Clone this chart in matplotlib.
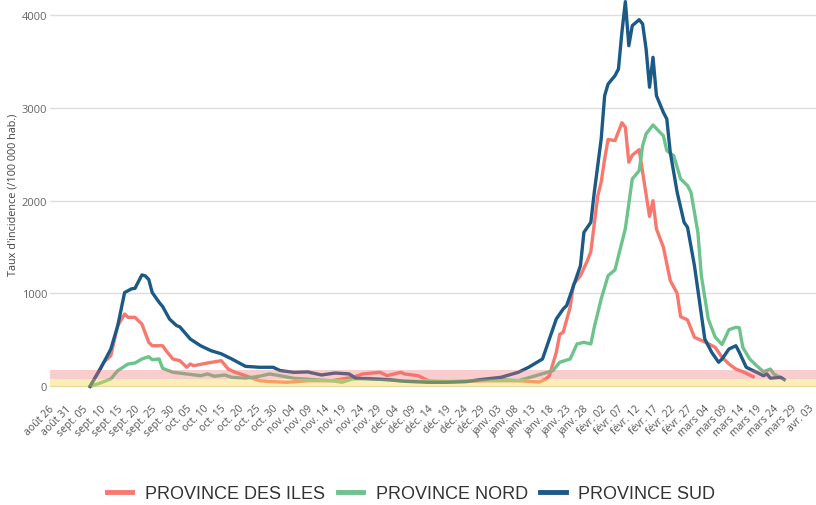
import numpy as np
import pandas as pd
import matplotlib
matplotlib.use("Agg")
import matplotlib.pyplot as plt
import matplotlib.dates as mdates
from matplotlib.ticker import FuncFormatter

# taux d'incidence (/100 000 hab.)
iles_dates = ["2021-09-06", "2021-09-10", "2021-09-12", "2021-09-14", "2021-09-16", "2021-09-17",
              "2021-09-19", "2021-09-21", "2021-09-23", "2021-09-24", "2021-09-27", "2021-09-28",
              "2021-09-30", "2021-10-02", "2021-10-04", "2021-10-05", "2021-10-06", "2021-10-10",
              "2021-10-14", "2021-10-16", "2021-10-18", "2021-10-21", "2021-10-25", "2021-10-29",
              "2021-11-02", "2021-11-08", "2021-11-15", "2021-11-21", "2021-11-24", "2021-11-29",
              "2021-12-01", "2021-12-05", "2021-12-06", "2021-12-10", "2021-12-13", "2021-12-20",
              "2021-12-30", "2022-01-08", "2022-01-14", "2022-01-16", "2022-01-17", "2022-01-19",
              "2022-01-20", "2022-01-21", "2022-01-23", "2022-01-24", "2022-01-26", "2022-01-28",
              "2022-01-29", "2022-01-30", "2022-01-31", "2022-02-01", "2022-02-02", "2022-02-03",
              "2022-02-05", "2022-02-07", "2022-02-08", "2022-02-09", "2022-02-10", "2022-02-12",
              "2022-02-13", "2022-02-15", "2022-02-16", "2022-02-17", "2022-02-19", "2022-02-21",
              "2022-02-23", "2022-02-24", "2022-02-26", "2022-02-28", "2022-03-03", "2022-03-06",
              "2022-03-08", "2022-03-10", "2022-03-12", "2022-03-14", "2022-03-17"]
iles_vals = [0, 259, 330, 653, 779, 743,
             743, 671, 474, 437, 437, 384,
             294, 276, 205, 240, 222, 251,
             276, 186, 151, 114, 60, 50,
             43, 60, 60, 97, 133, 151,
             114, 151, 133, 114, 60, 50,
             60, 60, 46, 79, 114, 366,
             560, 582, 850, 1100, 1192, 1353,
             1450, 1750, 2050, 2200, 2449, 2660,
             2647, 2840, 2791, 2414, 2490, 2550,
             2306, 1830, 2000, 1695, 1500, 1140,
             1000, 750, 715, 528, 478, 420,
             312, 240, 186, 157, 103]

nord_dates = ["2021-09-06", "2021-09-09", "2021-09-12", "2021-09-14", "2021-09-17", "2021-09-19",
              "2021-09-21", "2021-09-23", "2021-09-24", "2021-09-26", "2021-09-27", "2021-09-30",
              "2021-10-04", "2021-10-08", "2021-10-10", "2021-10-12", "2021-10-15", "2021-10-17",
              "2021-10-21", "2021-10-25", "2021-10-28", "2021-10-31", "2021-11-04", "2021-11-10",
              "2021-11-15", "2021-11-18", "2021-11-21", "2021-11-25", "2021-12-05", "2021-12-15",
              "2021-12-25", "2022-01-03", "2022-01-08", "2022-01-13", "2022-01-17", "2022-01-18",
              "2022-01-20", "2022-01-23", "2022-01-25", "2022-01-27", "2022-01-29", "2022-01-30",
              "2022-02-01", "2022-02-03", "2022-02-05", "2022-02-08", "2022-02-10", "2022-02-12",
              "2022-02-13", "2022-02-14", "2022-02-16", "2022-02-18", "2022-02-19", "2022-02-20",
              "2022-02-22", "2022-02-24", "2022-02-26", "2022-02-27", "2022-03-01", "2022-03-02",
              "2022-03-04", "2022-03-06", "2022-03-08", "2022-03-10", "2022-03-12", "2022-03-13",
              "2022-03-14", "2022-03-16", "2022-03-18", "2022-03-20", "2022-03-22", "2022-03-23",
              "2022-03-25"]
nord_vals = [0, 36, 79, 168, 240, 251,
             294, 319, 287, 294, 194, 151,
             133, 114, 133, 108, 122, 97,
             86, 108, 133, 114, 86, 71,
             60, 43, 79, 86, 60, 50,
             60, 72, 60, 114, 157, 168,
             259, 294, 456, 474, 456, 636,
             941, 1192, 1255, 1700, 2234, 2323,
             2593, 2719, 2816, 2737, 2700, 2539,
             2485, 2234, 2162, 2090, 1659, 1192,
             725, 530, 450, 610, 636, 630,
             420, 294, 222, 157, 186, 133,
             90]

sud_dates = ["2021-09-06", "2021-09-09", "2021-09-12", "2021-09-14", "2021-09-16", "2021-09-18",
             "2021-09-19", "2021-09-21", "2021-09-22", "2021-09-23", "2021-09-24", "2021-09-26",
             "2021-09-27", "2021-09-29", "2021-10-01", "2021-10-02", "2021-10-05", "2021-10-08",
             "2021-10-11", "2021-10-14", "2021-10-17", "2021-10-21", "2021-10-25", "2021-10-29",
             "2021-10-31", "2021-11-04", "2021-11-08", "2021-11-12", "2021-11-16", "2021-11-20",
             "2021-11-22", "2021-12-01", "2021-12-06", "2021-12-13", "2021-12-18", "2021-12-24",
             "2021-12-28", "2022-01-03", "2022-01-08", "2022-01-11", "2022-01-15", "2022-01-17",
             "2022-01-19", "2022-01-21", "2022-01-22", "2022-01-24", "2022-01-26", "2022-01-27",
             "2022-01-29", "2022-01-30", "2022-02-01", "2022-02-02", "2022-02-03", "2022-02-05",
             "2022-02-06", "2022-02-07", "2022-02-08", "2022-02-09", "2022-02-10", "2022-02-12",
             "2022-02-13", "2022-02-14", "2022-02-15", "2022-02-16", "2022-02-17", "2022-02-19",
             "2022-02-20", "2022-02-21", "2022-02-23", "2022-02-25", "2022-02-26", "2022-02-28",
             "2022-03-03", "2022-03-05", "2022-03-07", "2022-03-08", "2022-03-10", "2022-03-12",
             "2022-03-13", "2022-03-15", "2022-03-18", "2022-03-20", "2022-03-21", "2022-03-22",
             "2022-03-25", "2022-03-26"]
sud_vals = [0, 190, 400, 650, 1010, 1050,
            1055, 1200, 1190, 1150, 1010, 905,
            860, 725, 655, 640, 510, 437,
            384, 350, 295, 215, 205, 205,
            170, 150, 155, 122, 143, 133,
            86, 72, 54, 43, 43, 50,
            72, 97, 151, 205, 294, 510,
            725, 833, 870, 1084, 1300, 1659,
            1767, 2090, 2665, 3131, 3257, 3347,
            3419, 3815, 4145, 3670, 3886, 3950,
            3904, 3635, 3222, 3545, 3131, 2952,
            2880, 2521, 2090, 1767, 1713, 1300,
            510, 366, 259, 294, 402, 437,
            366, 205, 151, 114, 133, 86,
            97, 72]

labels = ["PROVINCE DES ILES", "PROVINCE NORD", "PROVINCE SUD"]
colors = ["#F8786E", "#6CC38C", "#1B5A87"]

# seuils colorés (bandes)
seuil_jaune = (-10, 80)
seuil_rose = (80, 180)

mois = {1: "janv.", 2: "févr.", 3: "mars", 4: "avr.", 8: "août", 9: "sept.",
        10: "oct.", 11: "nov.", 12: "déc."}

fig = plt.figure(figsize=(8.16, 5.06), dpi=100)
ax = fig.add_axes([50 / 816, 111 / 506, 766 / 816, 395 / 506])

series = [(iles_dates, iles_vals), (nord_dates, nord_vals), (sud_dates, sud_vals)]
for (d, v), lab, c in zip(series, labels, colors):
    ax.plot(pd.to_datetime(d), v, color=c, lw=2.4, label=lab, zorder=2,
            solid_joinstyle="round")

ax.axhspan(*seuil_jaune, color="#F9D94A", alpha=0.4, lw=0, zorder=3)
ax.axhspan(*seuil_rose, color="#F07070", alpha=0.35, lw=0, zorder=3)

start = pd.Timestamp("2021-08-26")
ax.set_xlim(start - pd.Timedelta(days=0.6), start + pd.Timedelta(days=221.2))
ax.set_ylim(-83, 4173)

tick_dates = pd.date_range("2021-08-26", "2022-04-03", freq="5D")
ax.set_xticks(tick_dates)
ax.xaxis.set_major_formatter(FuncFormatter(
    lambda x, pos: "%s %02d" % (mois[mdates.num2date(x).month], mdates.num2date(x).day)))
ax.set_yticks([0, 1000, 2000, 3000, 4000])

for lbl in ax.get_xticklabels():
    lbl.set_rotation(45)
    lbl.set_ha("right")
    lbl.set_va("center")
    lbl.set_rotation_mode("anchor")
    lbl.set_fontfamily("Open Sans")
    lbl.set_fontsize(7.5)
    lbl.set_color("#555555")
for lbl in ax.get_yticklabels():
    lbl.set_fontfamily("Open Sans")
    lbl.set_fontsize(8)
    lbl.set_color("#666666")

ax.tick_params(axis="x", length=0, pad=9)
ax.tick_params(axis="y", length=0, pad=2)
ax.grid(axis="y", color="#DDDDDD", lw=1, zorder=0)
ax.set_axisbelow(True)
for s in ax.spines.values():
    s.set_visible(False)

ax.set_ylabel("Taux d'incidence (/100 000 hab.)", fontfamily="Open Sans",
              fontsize=7.8, color="#444444")
ax.yaxis.set_label_coords(-0.041, 0.506)

fig.legend(loc="center", bbox_to_anchor=(0.504, 0.022), ncol=3, frameon=False,
           prop={"family": "Liberation Sans", "size": 13}, handlelength=1.4,
           handletextpad=0.7, columnspacing=0.7, labelcolor="#333333")
for h in fig.legends[0].get_lines():
    h.set_linewidth(3.5)

fig.savefig("out.png", dpi=100)
